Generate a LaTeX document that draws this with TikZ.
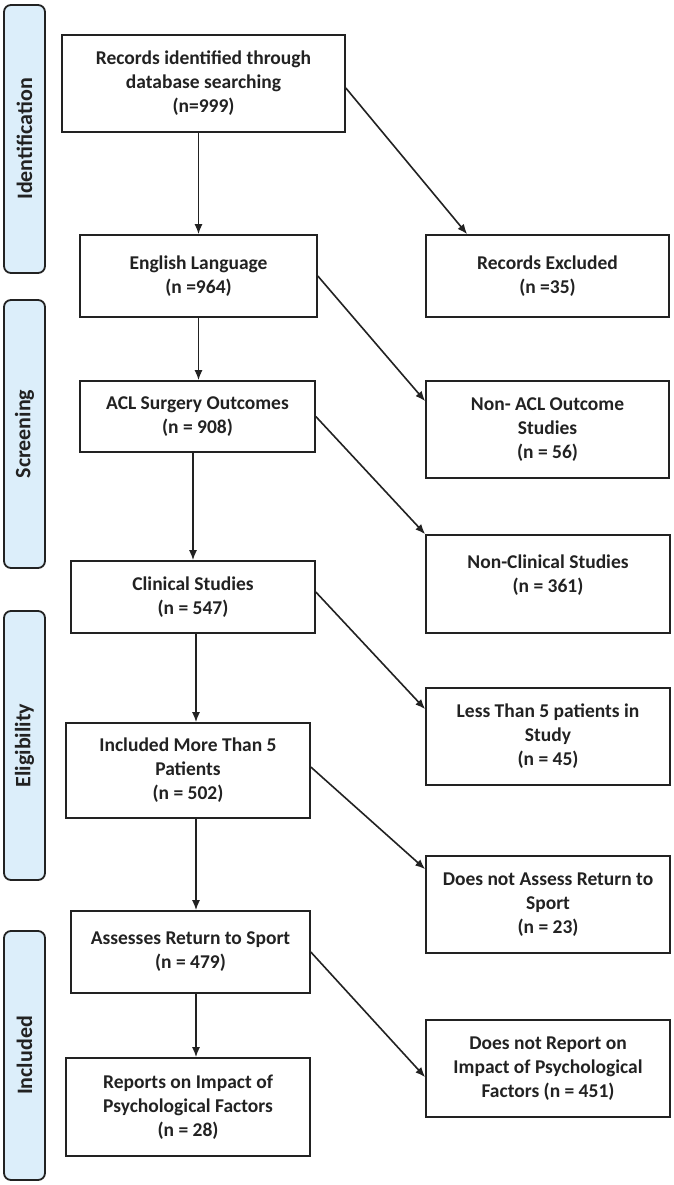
\documentclass[tikz,border=0pt]{standalone}
\usepackage{fontspec}
\setmainfont{Carlito}
\usetikzlibrary{arrows.meta,calc}
\definecolor{barfill}{HTML}{DCEEFA}
\definecolor{ink}{HTML}{222222}
\begin{document}
\begin{tikzpicture}[x=1pt,y=-1pt,
  box/.style={draw=ink,line width=1.6pt,fill=white,align=center,font=\bfseries\fontsize{19.5}{24}\selectfont,text=ink,inner sep=2pt},
  bar/.style={draw=ink,line width=1.8pt,fill=barfill,rounded corners=7pt},
  barlabel/.style={rotate=90,font=\bfseries\fontsize{22}{24}\selectfont,text=ink},
  arr/.style={draw=ink,line width=1.6pt,-{Latex[length=10pt,width=8pt]}}]
\useasboundingbox (0,0) rectangle (674,1185);
\fill[white] (0,0) rectangle (674,1185);
% side bars
\node[bar,minimum width=41pt,minimum height=268pt] (bid) at (24.5,139) {};
\node[barlabel] (lid) at (bid.center) {Identification};
\node[bar,minimum width=41pt,minimum height=268pt] (bsc) at (24.5,434) {};
\node[barlabel] (lsc) at (bsc.center) {Screening};
\node[bar,minimum width=41pt,minimum height=269pt] (bel) at (24.5,745.5) {};
\node[barlabel] (lel) at (bel.center) {Eligibility};
\node[bar,minimum width=41pt,minimum height=249pt] (bin) at (24.5,1055.5) {};
\node[barlabel] (lin) at (bin.center) {Included};
% left column
\node[box,minimum width=283pt,minimum height=97pt] (rec) at (203.5,83.5) {Records identified through\\database searching\\(n=999)};
\node[box,minimum width=237pt,minimum height=82pt] (eng) at (198.5,276) {English Language\\(n =964)};
\node[box,minimum width=235pt,minimum height=71pt] (acl) at (197.5,416.5) {ACL Surgery Outcomes\\(n = 908)};
\node[box,minimum width=244pt,minimum height=72pt] (clin) at (193,597) {Clinical Studies\\(n = 547)};
\node[box,minimum width=244pt,minimum height=95pt] (more) at (188,770.5) {Included More Than 5\\Patients\\(n = 502)};
\node[box,minimum width=239pt,minimum height=82pt] (assess) at (190.5,952) {Assesses Return to Sport\\(n = 479)};
\node[box,minimum width=244pt,minimum height=98pt] (rep) at (188,1107) {Reports on Impact of\\Psychological Factors\\(n = 28)};
% right column
\node[box,minimum width=243pt,minimum height=82pt] (excl) at (547.5,276) {Records Excluded\\(n =35)};
\node[box,minimum width=243pt,minimum height=97pt] (nonacl) at (547.5,429.5) {Non- ACL Outcome\\Studies\\(n = 56)};
\node[box,minimum width=244pt,minimum height=98pt,text depth=20pt] (noncl) at (548,584) {Non-Clinical Studies\\(n = 361)};
\node[box,minimum width=244pt,minimum height=97pt] (less) at (548,736.5) {Less Than 5 patients in\\Study\\(n = 45)};
\node[box,minimum width=244pt,minimum height=97pt] (noass) at (548,904.5) {Does not Assess Return to\\Sport\\(n = 23)};
\node[box,minimum width=244pt,minimum height=97pt] (norep) at (548,1068.5) {Does not Report on\\Impact of Psychological\\Factors (n = 451)};
% vertical arrows
\draw[arr] (rec.south -| eng.north) -- (eng.north);
\draw[arr] (eng.south) -- (eng.south |- acl.north);
\draw[arr] (acl.south -| clin.north) -- (clin.north);
\draw[arr] ([xshift=3pt]clin.south) -- ([xshift=3pt]clin.south |- more.north);
\draw[arr] ([xshift=8pt]more.south) -- ([xshift=8pt]more.south |- assess.north);
\draw[arr] ([xshift=5.5pt]assess.south) -- ([xshift=5.5pt]assess.south |- rep.north);
% diagonal arrows
\draw[arr] ([yshift=-4.5pt]rec.east) -- ([xshift=42pt]excl.north west);
\draw[arr] (eng.east) -- ([yshift=-21pt]nonacl.north west);
\draw[arr] (acl.east) -- (noncl.north west);
\draw[arr] ([yshift=5pt]clin.east) -- ([yshift=-22pt]less.north west);
\draw[arr] ([yshift=3.5pt]more.east) -- ([yshift=-14pt]noass.north west);
\draw[arr] (assess.east) -- ([yshift=-58pt]norep.north west);
\end{tikzpicture}
\end{document}
